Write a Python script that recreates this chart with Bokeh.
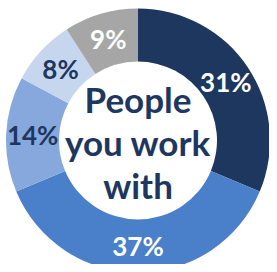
import math
from bokeh.plotting import figure
from bokeh.models import Range1d, ColumnDataSource
from bokeh.core.properties import value
from bokeh.embed import file_html
from bokeh.resources import INLINE

labels = ["31%", "37%", "14%", "8%", "9%"]
values = [31, 37, 14, 8, 9]
colors = ["#1D375F", "#4A7FCA", "#86A8DC", "#C6D6EE", "#A6A6A6"]
label_colors = ["white", "white", "#1D375F", "#1D375F", "white"]
center_lines = ["People", "you work", "with"]

W, H = 269, 264
p = figure(width=W, height=H, output_backend="svg", toolbar_location=None,
           x_range=Range1d(-137.5, 131.5), y_range=Range1d(-124, 140),
           min_border=0)
p.axis.visible = False
p.grid.visible = False
p.outline_line_color = None
p.background_fill_color = "white"
p.border_fill_color = "white"

R_OUT, R_IN = 132, 79
total = sum(values)
starts, ends, lx, ly = [], [], [], []
cum = 0.0
for v in values:
    a0 = math.pi / 2 - 2 * math.pi * cum / total
    cum += v
    a1 = math.pi / 2 - 2 * math.pi * cum / total
    starts.append(a0)
    ends.append(a1)
    mid = (a0 + a1) / 2
    rm = (R_OUT + R_IN) / 2
    lx.append(rm * math.cos(mid))
    ly.append(rm * math.sin(mid))

src = ColumnDataSource(dict(start=starts, end=ends, color=colors, lx=lx, ly=ly,
                            label=labels, lc=label_colors))
p.annular_wedge(x=0, y=0, inner_radius=R_IN, outer_radius=R_OUT,
                start_angle="start", end_angle="end", direction="clock",
                fill_color="color", line_color=None, source=src)
p.text(x="lx", y="ly", text="label", text_color="lc", source=src,
       text_font=value("Lato"), text_font_style="bold", text_font_size="26px",
       text_align="center", text_baseline="middle")

cy = [42, -1, -44]
p.text(x=[0, 0, 0], y=cy, text=center_lines, text_color="#1D375F",
       text_font=value("Lato"), text_font_style="bold", text_font_size="35px",
       text_align="center", text_baseline="middle")

open("out.html", "w").write(file_html(p, INLINE))
